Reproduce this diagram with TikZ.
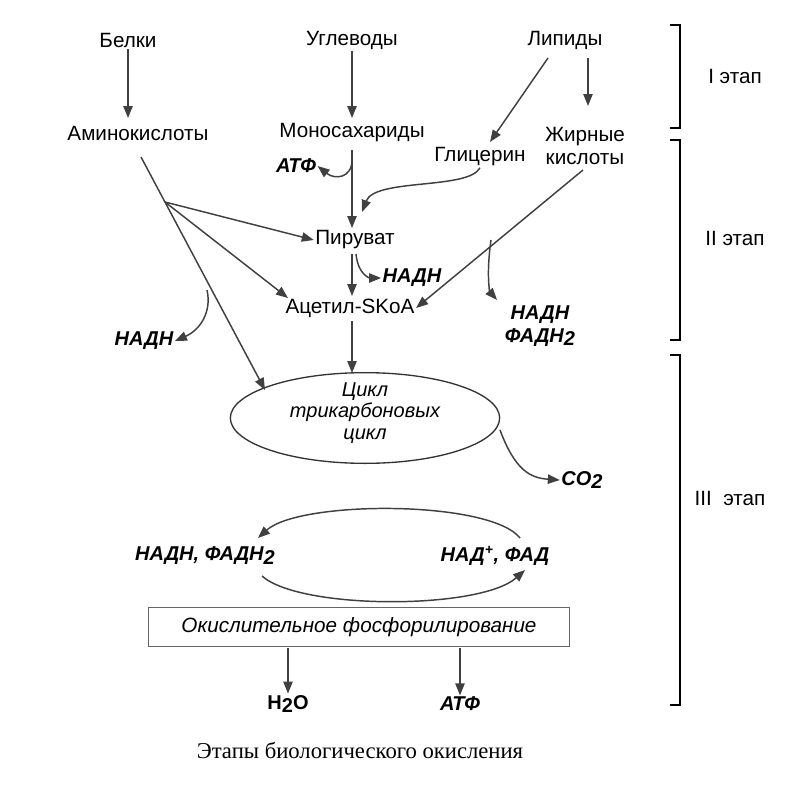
\documentclass[tikz,border=0pt]{standalone}
\usepackage{fontspec}
\setmainfont{Liberation Sans}
\newfontfamily\capfont{Liberation Serif}
\usetikzlibrary{arrows.meta,shapes.geometric}
\newcommand{\sbt}[1]{\raisebox{-0.35ex}{#1}}
\begin{document}
\begin{tikzpicture}[x=0.75pt,y=-0.75pt,
  every node/.style={font=\fontsize{15.5}{17}\selectfont, inner sep=1pt},
  b/.style={font=\fontsize{15}{17}\selectfont\bfseries\itshape},
  ar/.style={draw=black!75, line width=1.1pt, -{Triangle[length=9pt,width=7pt]}},
  br/.style={draw=black, line width=0.9pt}]
\useasboundingbox (0,0) rectangle (793,785);
\node (bel) at (128,40) {Белки};
\node (ugl) at (352,40) {Углеводы};
\node (lip) at (565,40) {Липиды};
\node (ami) at (138,133) {Аминокислоты};
\node (mon) at (352,133) {Моносахариды};
\node (gli) at (480,157) {Глицерин};
\node[align=center] (zhk) at (585,146) {Жирные\\кислоты};
\node (pir) at (355,240) {Пируват};
\node (ace) at (350,308) {Ацетил-SKoA};
\node[b] (atf1) at (296,166) {АТФ};
\node[b] (nadh1) at (412,278) {НАДН};
\node[b] (nadh2) at (144,341) {НАДН};
\node[b,align=center] (nadh3) at (540,326) {НАДН\\ФАДН\sbt{2}};
\node[draw=black!80, ellipse, minimum width=202pt, minimum height=68pt, line width=1pt] (cyc) at (365,418) {};
\node[align=center, font=\fontsize{15}{16}\selectfont\itshape] (cyct) at (365,413) {Цикл\\трикарбоновых\\цикл};
\node[b] (co2) at (582,480) {CO\sbt{2}};
\node[b] (nf) at (205,556) {НАДН, ФАДН\sbt{2}};
\node[b] (nad) at (495,556) {НАД\textsuperscript{+}, ФАД};
\node[draw=black!60, minimum width=316pt, minimum height=29pt, font=\fontsize{15.5}{17}\selectfont\itshape] (ox) at (359,627) {Окислительное фосфорилирование};
\node[font=\fontsize{15}{17}\selectfont\bfseries] (h2o) at (288,704) {H\sbt{2}O};
\node[b] (atf2) at (460,704) {АТФ};
\node[font=\fontsize{17}{19}\selectfont\capfont] (cap) at (360,750) {Этапы биологического окисления};
\node (e1) at (735,76) {I этап};
\node (e2) at (735,238) {II этап};
\node (e3) at (730,498) {III\ \ этап};
\coordinate (p0) at (165,202);
\coordinate (g1) at (207,290);
\coordinate (j1) at (491,240);
\draw[ar] (bel) -- (128,118);
\draw[ar] (ugl) -- (352,118);
\draw[ar] (548,58) -- (490,142);
\draw[ar] (588,58) -- (588,106);
\draw[ar] (352,150) -- (352,228);
\draw[ar] (352,160) .. controls (352,178) and (335,180) .. (atf1.east);
\draw[ar] (gli.south) .. controls (468,190) and (375,178) .. (362,212);
\draw[ar] (141,157) -- (265,390);
\draw[ar] (p0) -- (pir.west);
\draw[ar] (p0) -- (288,298);
\draw[ar] (g1) .. controls (212,312) and (200,330) .. (nadh2.east);
\draw[ar] (352,254) -- (352,296);
\draw[ar] (356,254) .. controls (358,275) and (370,278) .. (nadh1.west);
\draw[ar] (583,170) -- (ace.east);
\draw[ar] (j1) .. controls (486,275) and (490,292) .. (497,300);
\draw[ar] (352,321) -- (352,373);
\draw[ar] (500,430) .. controls (515,470) and (530,478) .. (co2.west);
\draw[ar] (520,538) .. controls (490,500) and (300,500) .. (258,538);
\draw[ar] (262,576) .. controls (300,610) and (480,610) .. (525,570);
\draw[ar] (288,648) -- (h2o);
\draw[ar] (460,648) -- (atf2);
\draw[br] (670,25) -- (680,25) -- (680,128) -- (670,128);
\draw[br] (670,140) -- (680,140) -- (680,340) -- (670,340);
\draw[br] (670,355) -- (680,355) -- (680,705) -- (670,705);
\end{tikzpicture}
\end{document}
